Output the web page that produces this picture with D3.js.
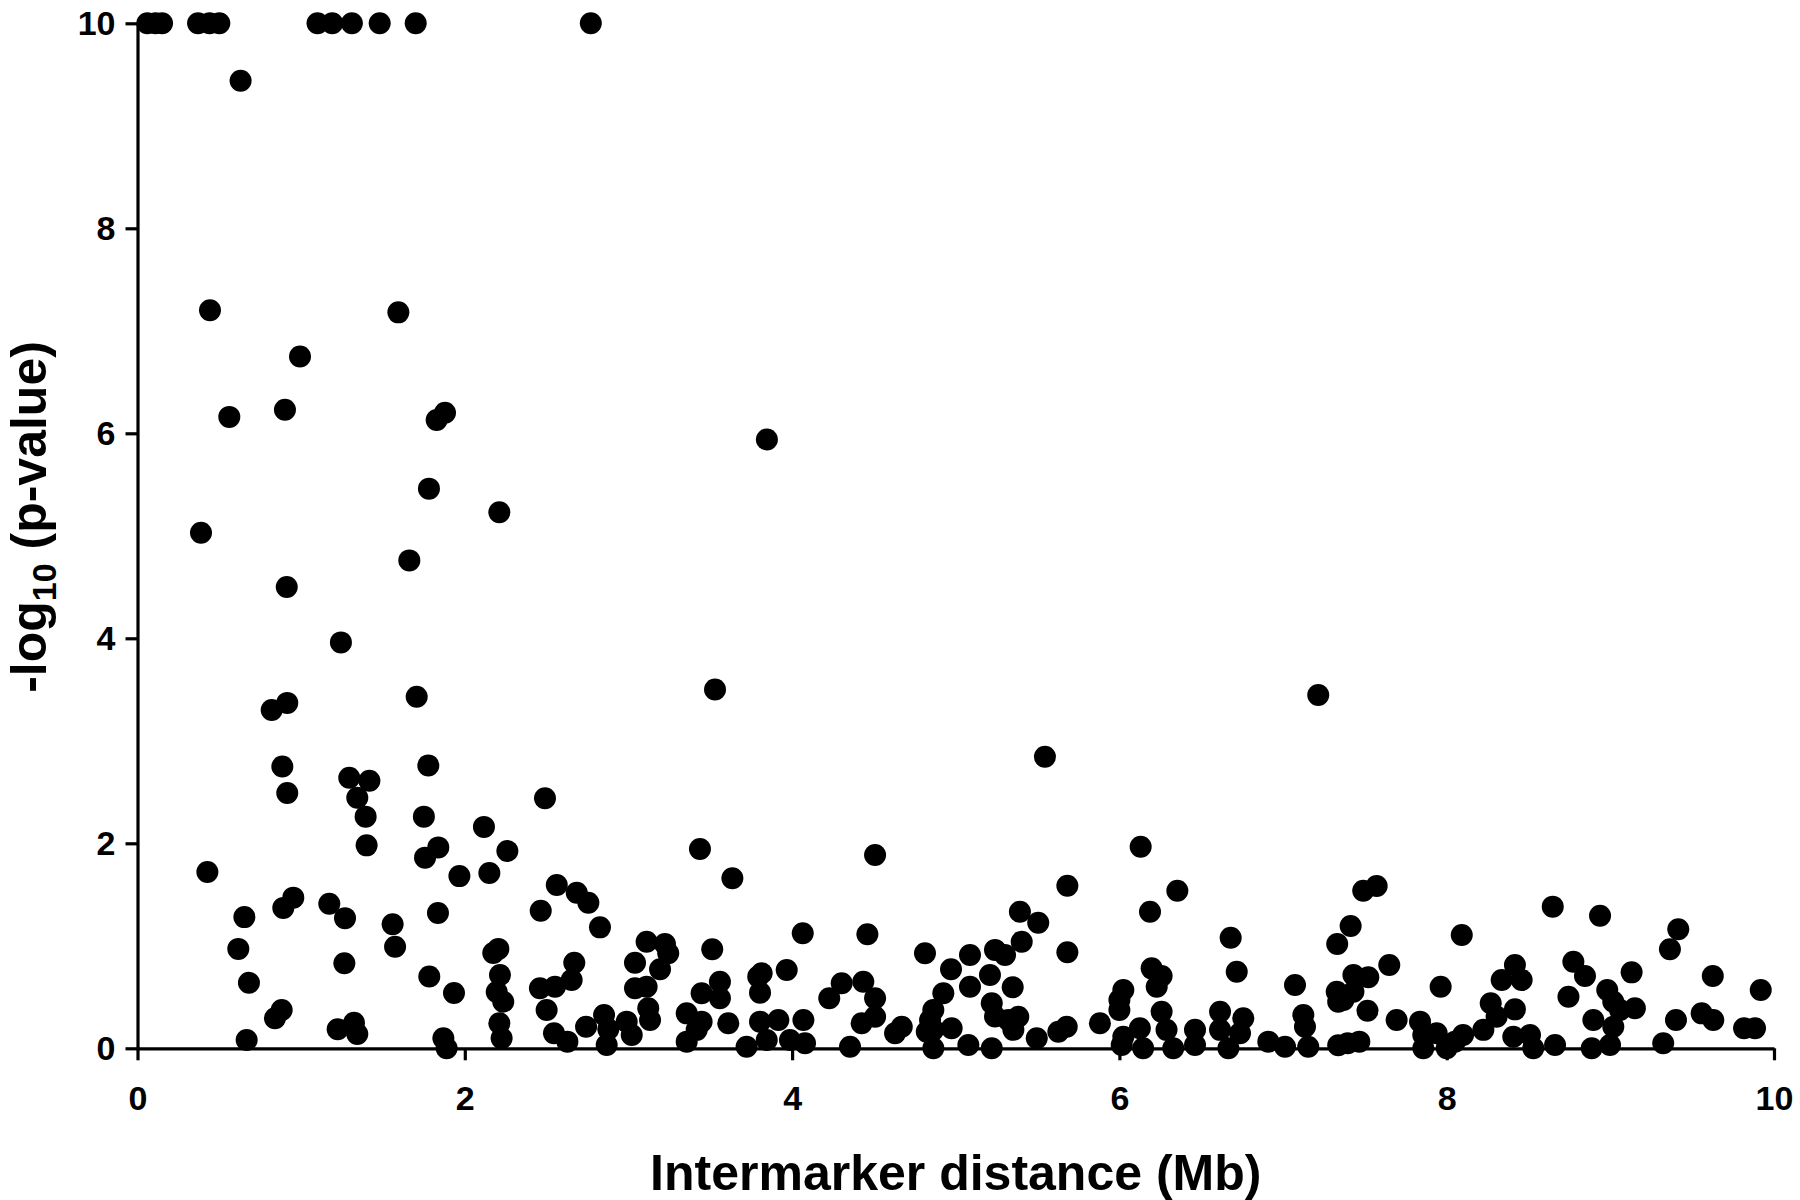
<!DOCTYPE html>
<html>
<head>
<meta charset="utf-8">
<script src="https://cdn.jsdelivr.net/npm/d3@7"></script>
<style>
  html, body { margin: 0; padding: 0; background: #fff; }
  svg { display: block; }
  text { font-family: "Liberation Sans", Arial, Helvetica, sans-serif; font-weight: bold; fill: #000; }
</style>
</head>
<body>
<svg id="chart" width="1800" height="1200"></svg>
<script>
// Intermarker distance (Mb)
const distance = [
  0.06, 0.11, 0.15, 0.37, 0.44, 0.50, 1.10, 1.19, 1.31, 1.48, 1.70, 2.77,
  0.63, 0.443, 1.594, 0.993, 0.561, 0.901, 1.828, 1.879, 1.781, 2.211,
  0.388, 1.661, 0.912, 1.243, 1.706, 0.915, 0.82, 1.777, 0.885, 0.915,
  1.294, 1.417, 1.343, 1.394, 1.75, 2.117, 1.40, 1.757, 1.838, 2.26,
  1.967, 2.15, 0.427, 0.952, 0.891, 1.172, 1.268, 1.836, 0.653, 1.559,
  1.574, 2.174, 2.205, 0.616, 1.264, 0.681, 1.783, 1.934, 2.215, 2.195,
  2.235, 2.211, 2.225, 0.881, 0.84, 1.223, 1.323, 1.343, 0.667, 1.869, 1.889,
  3.529, 2.49, 3.437, 3.635, 4.507, 2.562, 2.684, 2.755, 2.464, 2.826,
  4.065, 4.46, 3.512, 3.111, 3.223, 3.243, 2.669, 3.04, 3.193, 2.653,
  2.459, 2.551, 3.04, 3.111, 3.447, 3.559, 3.559, 3.793, 3.814, 3.804,
  3.967, 4.227, 4.303, 4.435, 4.507, 4.507, 4.425, 4.629, 2.5, 2.545,
  2.627, 2.741, 2.851, 2.877, 2.867, 2.989, 3.02, 3.121, 3.132, 3.356,
  3.356, 3.447, 3.417, 3.61, 3.722, 3.804, 3.916, 3.845, 3.987, 4.069,
  4.079, 4.354, 3.846,
  7.215, 5.545, 6.13, 5.682, 6.354, 5.392, 5.504, 6.187, 6.68, 7.331,
  4.812, 5.087, 5.24, 5.301, 5.403, 5.682, 4.971, 5.209, 5.087, 5.348,
  6.197, 6.258, 6.228, 6.717, 7.073, 7.328, 4.924, 4.863, 5.22, 6.024,
  6.0, 6.258, 6.615, 6.757, 7.124, 7.337, 4.67, 4.843, 4.863, 4.823,
  4.975, 4.863, 5.077, 5.22, 5.24, 5.321, 5.382, 5.352, 5.495, 5.627,
  5.678, 5.881, 6.0, 6.024, 6.014, 6.125, 6.145, 6.288, 6.329, 6.462,
  6.462, 6.615, 6.737, 6.666, 6.91, 7.012, 7.134, 7.154, 7.337,
  7.49, 7.572, 7.413, 7.649, 8.092, 8.648, 8.937, 9.415, 9.364, 9.626,
  9.919, 7.43, 7.521, 7.369, 7.43, 7.516, 7.694, 7.963, 7.837, 7.857,
  7.939, 7.857, 8.0, 8.1, 8.05, 8.224, 8.269, 8.305, 8.336, 8.417,
  8.458, 8.417, 8.407, 8.509, 8.529, 8.662, 8.774, 8.845, 8.744, 9.13,
  8.981, 9.018, 9.059, 9.15, 8.896, 9.018, 8.998, 8.886, 9.323, 9.401,
  9.558, 9.629, 9.817, 9.884, 7.395, 7.466
];

// -log10(p-value)
const negLogP = [
  10, 10, 10, 10, 10, 10, 10, 10, 10, 10, 10, 10,
  9.44, 7.20, 7.18, 6.75, 6.16, 6.23, 6.13, 6.20, 5.46, 5.23,
  5.03, 4.76, 4.50, 3.96, 3.43, 3.37, 3.30, 2.76, 2.75, 2.49,
  2.64, 2.61, 2.445, 2.26, 2.26, 2.16, 1.98, 1.86, 1.96, 1.925,
  1.68, 1.71, 1.72, 1.47, 1.37, 1.41, 1.27, 1.32, 1.28, 1.21,
  0.99, 0.93, 0.97, 0.97, 0.83, 0.64, 0.70, 0.54, 0.715, 0.55,
  0.455, 0.244, 0.098, 0.374, 0.293, 0.185, 0.25, 0.14, 0.081, 0.098, 0.0,
  3.50, 2.44, 1.944, 1.659, 1.886, 1.593, 1.518, 1.42, 1.342, 1.18,
  1.122, 1.112, 0.966, 1.04, 1.018, 0.927, 0.835, 0.835, 0.771, 0.666,
  0.585, 0.601, 0.585, 0.601, 0.537, 0.65, 0.488, 0.699, 0.732, 0.543,
  0.764, 0.488, 0.634, 0.65, 0.488, 0.308, 0.244, 0.146, 0.374, 0.146,
  0.065, 0.211, 0.325, 0.185, 0.032, 0.26, 0.13, 0.39, 0.276, 0.341,
  0.065, 0.26, 0.18, 0.244, 0.016, 0.26, 0.276, 0.081, 0.081, 0.276,
  0.049, 0.016, 5.94,
  3.447, 2.845, 1.967, 1.586, 1.538, 1.333, 1.225, 1.333, 1.079, 1.018,
  0.927, 0.91, 0.96, 0.91, 1.04, 0.937, 0.771, 0.715, 0.601, 0.595,
  0.78, 0.705, 0.601, 0.747, 0.618, 0.552, 0.537, 0.374, 0.439, 0.569,
  0.471, 0.357, 0.357, 0.293, 0.325, 0.455, 0.211, 0.276, 0.18, 0.162,
  0.195, 0.0, 0.032, 0.0, 0.31, 0.276, 0.308, 0.18, 0.098, 0.162,
  0.211, 0.244, 0.374, 0.113, 0.032, 0.195, 0.0, 0.18, 0.0, 0.18,
  0.032, 0.18, 0.146, 0.0, 0.065, 0.016, 0.211, 0.016, 0.03,
  1.538, 1.583, 1.193, 0.813, 1.105, 1.382, 1.294, 1.161, 0.966, 0.705,
  0.569, 0.715, 0.693, 0.471, 0.552, 0.367, 0.276, 0.601, 0.26, 0.13,
  0.146, 0.0, 0.0, 0.13, 0.065, 0.18, 0.439, 0.308, 0.666, 0.813,
  0.666, 0.38, 0.113, 0.13, 0.0, 0.032, 0.845, 0.705, 0.503, 0.741,
  0.569, 0.455, 0.374, 0.39, 0.276, 0.211, 0.032, 0.0, 0.049, 0.276,
  0.341, 0.276, 0.195, 0.195, 0.049, 0.065
];

const xTicks = [0, 2, 4, 6, 8, 10];
const yTicks = [0, 2, 4, 6, 8, 10];
const xTitle = "Intermarker distance (Mb)";

const points = distance.map((d, i) => ({ x: d, y: negLogP[i] }));

const svg = d3.select("#chart");
const x = d3.scaleLinear().domain([0, 10]).range([137.5, 1774]);
const y = d3.scaleLinear().domain([0, 10]).range([1048.3, 23.3]);

// points
svg.append("g")
  .selectAll("circle")
  .data(points)
  .join("circle")
  .attr("cx", d => x(d.x))
  .attr("cy", d => y(d.y))
  .attr("r", 11)
  .attr("fill", "#000");

// axes
const xAxis = svg.append("g")
  .attr("transform", `translate(0,${y(0)})`)
  .call(d3.axisBottom(x).tickValues(xTicks).tickFormat(d3.format("d"))
    .tickSize(12).tickSizeOuter(0).tickPadding(26));
const yAxis = svg.append("g")
  .attr("transform", `translate(${x(0)},0)`)
  .call(d3.axisLeft(y).tickValues(yTicks).tickFormat(d3.format("d"))
    .tickSize(12).tickSizeOuter(0).tickPadding(10));

[xAxis, yAxis].forEach(g => {
  g.select(".domain").attr("stroke", "#000").attr("stroke-width", 3.2);
  g.selectAll(".tick line").attr("stroke", "#000").attr("stroke-width", 3.2);
  g.selectAll(".tick text")
    .attr("fill", "#000")
    .style("font-size", "34px")
    .style("font-weight", "bold")
    .style("font-family", '"Liberation Sans", Arial, sans-serif');
});

// x title
svg.append("text")
  .attr("x", (x(0) + x(10)) / 2)
  .attr("y", 1190)
  .attr("text-anchor", "middle")
  .style("font-size", "50px")
  .text(xTitle);

// y title
const yt = svg.append("text")
  .attr("transform", "translate(46,517) rotate(-90)")
  .attr("text-anchor", "middle")
  .style("font-size", "50px");
yt.append("tspan").text("-log");
yt.append("tspan").attr("dy", 10).style("font-size", "34px").text("10");
yt.append("tspan").attr("dy", -10).text(" (p-value)");
</script>
</body>
</html>
